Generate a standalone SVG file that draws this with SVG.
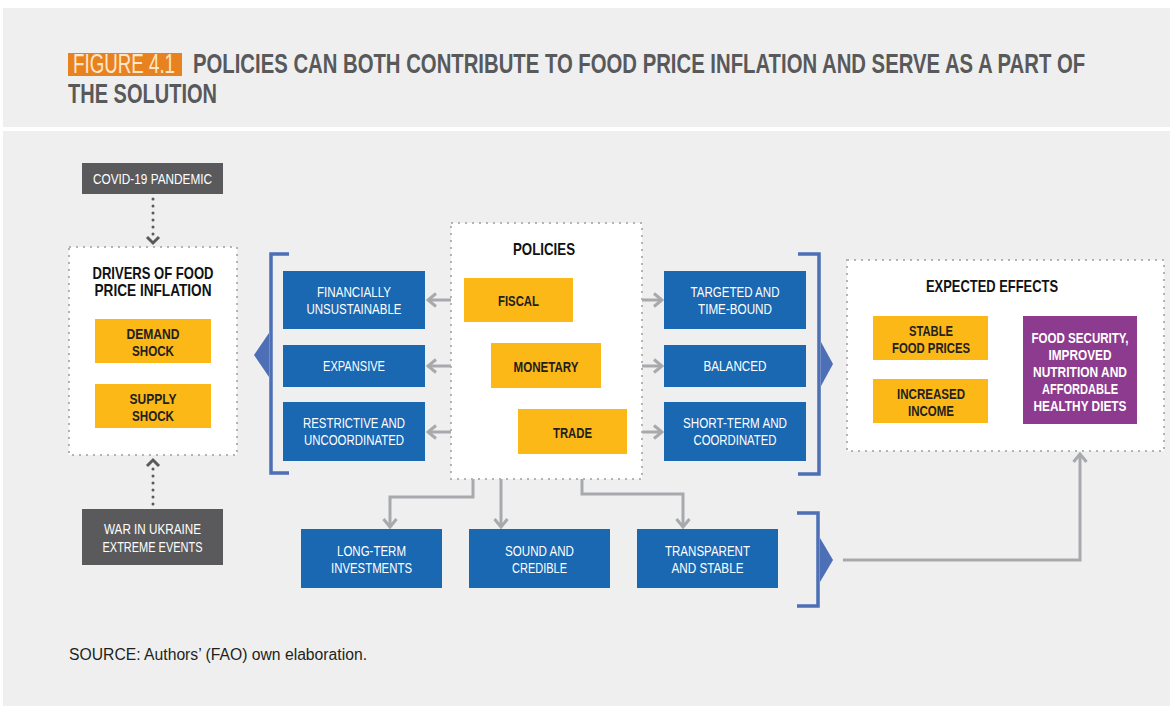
<svg xmlns="http://www.w3.org/2000/svg" width="1173" height="711" viewBox="0 0 1173 711">
<style>
.bg{fill:#efefef}
.t{font-family:"Liberation Sans",Arial,sans-serif;text-anchor:middle}
.title{font-family:"Liberation Sans",Arial,sans-serif;font-weight:bold;font-size:27px;fill:#58595b}
.wt{fill:#ffffff;font-size:15px}
.bk{fill:#231f20;font-size:15px;font-weight:bold}
.hd{fill:#111111;font-size:16.5px;font-weight:bold}
.pw{fill:#ffffff;font-size:15px;font-weight:bold}
.blue{fill:#1a67b2}
.yel{fill:#fbb817}
.dark{fill:#5a5a5c}
.pur{fill:#8d3b8e}
.dot{fill:#ffffff;stroke:#b3b3b3;stroke-width:2;stroke-dasharray:2 5}
.con{fill:none;stroke:#a7a9ac;stroke-width:3}
.dc{fill:none;stroke:#5a5a5c;stroke-width:3;stroke-linecap:round;stroke-dasharray:0 7}
.br{fill:none;stroke:#4c6fb6;stroke-width:3.5}
.tri{fill:#4c6fb6}
</style>
<defs>
<marker id="ah" viewBox="0 0 12 16" refX="10" refY="8" markerWidth="12" markerHeight="16" markerUnits="userSpaceOnUse" orient="auto">
<path d="M2,1.5 L10,8 L2,14.5" fill="none" stroke="#a7a9ac" stroke-width="3"/>
</marker>
</defs>

<rect x="0" y="0" width="1173" height="711" fill="#ffffff"/>
<rect class="bg" x="3" y="8" width="1167" height="119"/>
<rect class="bg" x="3" y="131" width="1167" height="575"/>

<g id="title">
<rect x="68" y="53" width="114" height="23" fill="#e8821e"/>
<text class="title" transform="translate(73,73) scale(0.75,1)" x="0" y="0" textLength="136" lengthAdjust="spacingAndGlyphs" style="font-weight:normal;fill:#fde6cc">FIGURE 4.1</text>
<text class="title" transform="translate(193,73) scale(0.69,1)" x="0" y="0" textLength="1293" lengthAdjust="spacingAndGlyphs">POLICIES CAN BOTH CONTRIBUTE TO FOOD PRICE INFLATION AND SERVE AS A PART OF</text>
<text class="title" transform="translate(68,103) scale(0.69,1)" x="0" y="0" textLength="216" lengthAdjust="spacingAndGlyphs">THE SOLUTION</text>
</g>

<g id="connectors">
<line class="dc" x1="153" y1="199" x2="153" y2="236"/>
<path d="M147,237 L153,243 L159,237" fill="none" stroke="#5a5a5c" stroke-width="3"/>
<line class="dc" x1="153" y1="504" x2="153" y2="468"/>
<path d="M147,466 L153,460 L159,466" fill="none" stroke="#5a5a5c" stroke-width="3"/>

<line class="con" x1="464" y1="300" x2="428" y2="300" marker-end="url(#ah)"/>
<line class="con" x1="573" y1="300" x2="662" y2="300" marker-end="url(#ah)"/>
<line class="con" x1="491" y1="366" x2="428" y2="366" marker-end="url(#ah)"/>
<line class="con" x1="601" y1="366" x2="662" y2="366" marker-end="url(#ah)"/>
<line class="con" x1="518" y1="432" x2="428" y2="432" marker-end="url(#ah)"/>
<line class="con" x1="627" y1="432" x2="662" y2="432" marker-end="url(#ah)"/>

<path class="con" d="M473,322 L473,497 L390,497 L390,527" marker-end="url(#ah)"/>
<path class="con" d="M501,388 L501,527" marker-end="url(#ah)"/>
<path class="con" d="M582,454 L582,494 L683,494 L683,527" marker-end="url(#ah)"/>

<line class="con" x1="989" y1="338" x2="1021" y2="338" marker-end="url(#ah)"/>
<line class="con" x1="989" y1="401" x2="1021" y2="401" marker-end="url(#ah)"/>
<path class="con" d="M843,560 L1080,560 L1080,454" marker-end="url(#ah)"/>
</g>

<g id="brackets">
<path class="br" d="M289,254 L271,254 L271,473 L289,473"/>
<polygon class="tri" points="269,333 269,377 254,355"/>
<path class="br" d="M798,254 L819,254 L819,474 L798,474"/>
<polygon class="tri" points="821,342 821,386 833,364"/>
<path class="br" d="M797,513 L818,513 L818,606 L797,606"/>
<polygon class="tri" points="820,538 820,582 833,560"/>
</g>

<g id="covid">
<rect class="dark" x="82" y="163" width="141" height="31"/>
<text class="t wt" x="152.5" y="184" textLength="119" lengthAdjust="spacingAndGlyphs">COVID-19 PANDEMIC</text>
</g>

<g id="drivers">
<rect class="dot" x="69" y="247" width="168" height="208"/>
<text class="t hd" x="153" y="279" textLength="121" lengthAdjust="spacingAndGlyphs">DRIVERS OF FOOD</text>
<text class="t hd" x="153" y="296" textLength="117" lengthAdjust="spacingAndGlyphs">PRICE INFLATION</text>
</g>
<g id="demand">
<rect class="yel" x="95" y="319" width="116" height="44"/>
<text class="t bk" x="153" y="339" textLength="53" lengthAdjust="spacingAndGlyphs">DEMAND</text>
<text class="t bk" x="153" y="356" textLength="42" lengthAdjust="spacingAndGlyphs">SHOCK</text>
</g>
<g id="supply">
<rect class="yel" x="95" y="384" width="116" height="44"/>
<text class="t bk" x="153" y="404" textLength="47" lengthAdjust="spacingAndGlyphs">SUPPLY</text>
<text class="t bk" x="153" y="421" textLength="42" lengthAdjust="spacingAndGlyphs">SHOCK</text>
</g>

<g id="war">
<rect class="dark" x="82" y="509" width="141" height="56"/>
<text class="t wt" x="152.5" y="534" textLength="97" lengthAdjust="spacingAndGlyphs">WAR IN UKRAINE</text>
<text class="t wt" x="152.5" y="552" textLength="100" lengthAdjust="spacingAndGlyphs">EXTREME EVENTS</text>
</g>

<g id="policies">
<rect class="dot" x="451" y="223" width="191" height="256"/>
<text class="t hd" x="544" y="255" textLength="62" lengthAdjust="spacingAndGlyphs">POLICIES</text>
</g>
<g id="fiscal">
<rect class="yel" x="464" y="278" width="109" height="44"/>
<text class="t bk" x="518.5" y="306" textLength="41" lengthAdjust="spacingAndGlyphs">FISCAL</text>
</g>
<g id="monetary">
<rect class="yel" x="491" y="343" width="110" height="45"/>
<text class="t bk" x="546" y="372" textLength="65" lengthAdjust="spacingAndGlyphs">MONETARY</text>
</g>
<g id="trade">
<rect class="yel" x="518" y="409" width="109" height="45"/>
<text class="t bk" x="572.5" y="438" textLength="39" lengthAdjust="spacingAndGlyphs">TRADE</text>
</g>

<g id="financially">
<rect class="blue" x="283" y="271" width="142" height="58"/>
<text class="t wt" x="354" y="297" textLength="74" lengthAdjust="spacingAndGlyphs">FINANCIALLY</text>
<text class="t wt" x="354" y="314" textLength="95" lengthAdjust="spacingAndGlyphs">UNSUSTAINABLE</text>
</g>
<g id="expansive">
<rect class="blue" x="283" y="345" width="142" height="42"/>
<text class="t wt" x="354" y="371" textLength="62" lengthAdjust="spacingAndGlyphs">EXPANSIVE</text>
</g>
<g id="restrictive">
<rect class="blue" x="283" y="402" width="142" height="59"/>
<text class="t wt" x="354" y="428" textLength="102" lengthAdjust="spacingAndGlyphs">RESTRICTIVE AND</text>
<text class="t wt" x="354" y="445" textLength="100" lengthAdjust="spacingAndGlyphs">UNCOORDINATED</text>
</g>

<g id="targeted">
<rect class="blue" x="664" y="271" width="142" height="58"/>
<text class="t wt" x="735" y="297" textLength="89" lengthAdjust="spacingAndGlyphs">TARGETED AND</text>
<text class="t wt" x="735" y="314" textLength="74" lengthAdjust="spacingAndGlyphs">TIME-BOUND</text>
</g>
<g id="balanced">
<rect class="blue" x="664" y="345" width="142" height="42"/>
<text class="t wt" x="735" y="371" textLength="63" lengthAdjust="spacingAndGlyphs">BALANCED</text>
</g>
<g id="shortterm">
<rect class="blue" x="664" y="402" width="142" height="59"/>
<text class="t wt" x="735" y="428" textLength="104" lengthAdjust="spacingAndGlyphs">SHORT-TERM AND</text>
<text class="t wt" x="735" y="445" textLength="83" lengthAdjust="spacingAndGlyphs">COORDINATED</text>
</g>

<g id="longterm">
<rect class="blue" x="301" y="529" width="141" height="59"/>
<text class="t wt" x="371.5" y="556" textLength="69" lengthAdjust="spacingAndGlyphs">LONG-TERM</text>
<text class="t wt" x="371.5" y="573" textLength="81" lengthAdjust="spacingAndGlyphs">INVESTMENTS</text>
</g>
<g id="sound">
<rect class="blue" x="469" y="529" width="141" height="59"/>
<text class="t wt" x="539.5" y="556" textLength="69" lengthAdjust="spacingAndGlyphs">SOUND AND</text>
<text class="t wt" x="539.5" y="573" textLength="55" lengthAdjust="spacingAndGlyphs">CREDIBLE</text>
</g>
<g id="transparent">
<rect class="blue" x="637" y="529" width="141" height="59"/>
<text class="t wt" x="707.5" y="556" textLength="85" lengthAdjust="spacingAndGlyphs">TRANSPARENT</text>
<text class="t wt" x="707.5" y="573" textLength="72" lengthAdjust="spacingAndGlyphs">AND STABLE</text>
</g>

<g id="effects">
<rect class="dot" x="847" y="260" width="317" height="191"/>
<text class="t hd" x="992" y="292" textLength="132" lengthAdjust="spacingAndGlyphs">EXPECTED EFFECTS</text>
</g>
<g id="stable">
<rect class="yel" x="873" y="316" width="115" height="44"/>
<text class="t bk" x="931" y="336" textLength="44" lengthAdjust="spacingAndGlyphs">STABLE</text>
<text class="t bk" x="931" y="353" textLength="78" lengthAdjust="spacingAndGlyphs">FOOD PRICES</text>
</g>
<g id="income">
<rect class="yel" x="873" y="379" width="115" height="44"/>
<text class="t bk" x="931" y="399" textLength="68" lengthAdjust="spacingAndGlyphs">INCREASED</text>
<text class="t bk" x="931" y="416" textLength="46" lengthAdjust="spacingAndGlyphs">INCOME</text>
</g>
<g id="foodsecurity">
<rect class="pur" x="1023" y="316" width="114" height="108"/>
<text class="t pw" x="1080" y="343" textLength="97" lengthAdjust="spacingAndGlyphs">FOOD SECURITY,</text>
<text class="t pw" x="1080" y="360" textLength="63" lengthAdjust="spacingAndGlyphs">IMPROVED</text>
<text class="t pw" x="1080" y="377" textLength="94" lengthAdjust="spacingAndGlyphs">NUTRITION AND</text>
<text class="t pw" x="1080" y="394" textLength="76" lengthAdjust="spacingAndGlyphs">AFFORDABLE</text>
<text class="t pw" x="1080" y="411" textLength="93" lengthAdjust="spacingAndGlyphs">HEALTHY DIETS</text>
</g>

<text x="69" y="660" font-family="'Liberation Sans',Arial,sans-serif" font-size="16" fill="#231f20" textLength="298" lengthAdjust="spacingAndGlyphs">SOURCE: Authors’ (FAO) own elaboration.</text>
</svg>
